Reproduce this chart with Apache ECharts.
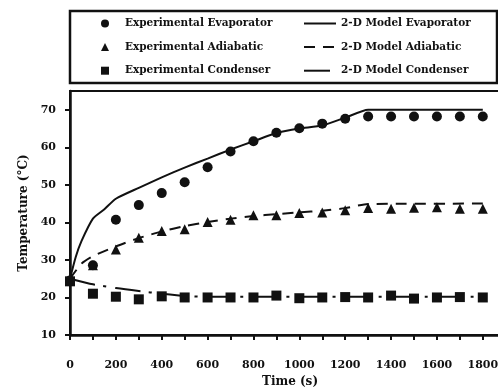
<!DOCTYPE html>
<html><head><meta charset="utf-8">
<script src="https://cdn.jsdelivr.net/npm/echarts@6/dist/echarts.min.js"></script>
<style>html,body{margin:0;padding:0;background:#fff}#c{width:498px;height:389px}</style>
</head><body><div id="c"></div>
<script>
const times = [0,100,200,300,400,500,600,700,800,900,1000,1100,1200,1300,1400,1500,1600,1700,1800];
const expEvap = [24.5,28.6,40.7,44.6,47.8,50.7,54.7,58.9,61.6,63.9,65.1,66.3,67.6,68.2,68.2,68.2,68.2,68.2,68.2];
const expAdia = [24.5,28.6,32.8,35.9,37.7,38.2,40.1,40.7,41.9,41.9,42.5,42.6,43.2,43.8,43.6,43.9,44.0,43.6,43.6];
const expCond = [24.3,21.0,20.2,19.5,20.3,20.0,20.0,20.0,20.0,20.5,19.8,20.0,20.1,20.0,20.5,19.7,20.0,20.1,20.0];

const modelEvapT = [0,25,50,100,150,200,300,400,500,600,700,800,900,1000,1100,1200,1300,1800];
const modelEvapV = [25,30.8,35,41,43.5,46.3,49.2,52.0,54.6,57.0,59.4,61.6,63.8,65.0,65.8,67.9,70,70];
const modelAdiaT = [0,50,100,200,300,400,500,600,700,800,900,1000,1100,1200,1300,1800];
const modelAdiaV = [25,29,31,33.6,35.8,37.6,39.0,40.1,41.0,41.7,42.2,42.7,43.1,43.8,44.9,45.0];
const modelCondT = [0,100,200,300,400,500,600,1800];
const modelCondV = [25,23.5,22.5,21.7,21.0,20.4,20.2,20.2];

const xTicks = [0,200,400,600,800,1000,1200,1400,1600,1800];
const yTicks = [10,20,30,40,50,60,70];

const names = {
  ee: 'Experimental Evaporator', ea: 'Experimental Adiabatic', ec: 'Experimental Condenser',
  me: '2-D Model Evaporator', ma: '2-D Model Adiabatic', mc: '2-D Model Condenser'
};
const pairs = (t, v) => t.map((x, i) => [x, v[i]]);
const FONT = 'DejaVu Serif';
const ink = '#111';

const chart = echarts.init(document.getElementById('c'), null, {renderer: 'canvas'});
chart.setOption({
  animation: false,
  backgroundColor: '#fff',
  grid: {left: 70, right: -2, top: 91, bottom: 54, show: true, borderColor: ink, borderWidth: 2,
         containLabel: false, outerBoundsMode: 'none'},
  graphic: [{
    type: 'rect', shape: {x: 70, y: 11, width: 427, height: 72},
    style: {fill: 'none', stroke: ink, lineWidth: 2.5}, z: 0
  }],
  legend: [{
    data: [names.ee, names.ea, names.ec],
    orient: 'vertical', left: 101, top: 18, padding: 0, itemWidth: 8, itemHeight: 8, itemGap: 12.6,
    itemStyle: {opacity: 1},
    textStyle: {fontFamily: FONT, fontWeight: 'bold', fontSize: 10.5, color: ink, padding: [0, 0, 0, 11]}
  }, {
    data: [names.me, names.ma, names.mc],
    orient: 'vertical', left: 303, top: 18, padding: 0, itemWidth: 32, itemHeight: 10, itemGap: 12.6,
    itemStyle: {opacity: 0},
    textStyle: {fontFamily: FONT, fontWeight: 'bold', fontSize: 10.5, color: ink}
  }],
  xAxis: {
    type: 'value', min: 0, max: 1875, interval: 100,
    name: 'Time (s)', nameLocation: 'middle', nameGap: 40,
    nameTextStyle: {fontFamily: FONT, fontWeight: 'bold', fontSize: 12, color: ink, padding: [0, 0, 0, 10]},
    axisLine: {lineStyle: {color: ink, width: 2.5}},
    axisTick: {show: true, inside: false, length: 5, lineStyle: {color: ink, width: 2}},
    axisLabel: {
      fontFamily: FONT, fontWeight: 'bold', fontSize: 11, color: ink, margin: 25,
      showMaxLabel: false,
      formatter: v => xTicks.includes(v) ? String(v) : ''
    },
    splitLine: {show: false}
  },
  yAxis: {
    type: 'value', min: 10, max: 75, interval: 10,
    name: 'Temperature (°C)', nameLocation: 'middle', nameGap: 37, nameRotate: 90,
    nameTextStyle: {fontFamily: FONT, fontWeight: 'bold', fontSize: 12, color: ink},
    axisLine: {lineStyle: {color: ink, width: 2.5}},
    axisTick: {show: true, inside: false, length: 5, lineStyle: {color: ink, width: 2}},
    axisLabel: {
      fontFamily: FONT, fontWeight: 'bold', fontSize: 11, color: ink, margin: 14,
      showMaxLabel: false,
      formatter: v => yTicks.includes(v) ? String(v) : ''
    },
    splitLine: {show: false}
  },
  series: [
    {name: names.ee, type: 'scatter', symbol: 'circle', symbolSize: 10, itemStyle: {color: ink, opacity: 1}, z: 5,
     data: pairs(times, expEvap)},
    {name: names.ea, type: 'scatter', symbol: 'triangle', symbolSize: 10, itemStyle: {color: ink, opacity: 1}, z: 5,
     data: pairs(times, expAdia)},
    {name: names.ec, type: 'scatter', symbol: 'rect', symbolSize: 10, itemStyle: {color: ink, opacity: 1}, z: 5,
     data: pairs(times, expCond)},
    {name: names.me, type: 'line', symbol: 'none', smooth: 0.2, itemStyle: {color: ink},
     lineStyle: {color: ink, width: 2, type: 'solid'}, data: pairs(modelEvapT, modelEvapV)},
    {name: names.ma, type: 'line', symbol: 'none', smooth: 0.2, itemStyle: {color: ink},
     lineStyle: {color: ink, width: 2, type: [11, 8]}, data: pairs(modelAdiaT, modelAdiaV)},
    {name: names.mc, type: 'line', symbol: 'none', smooth: 0.2, itemStyle: {color: ink},
     lineStyle: {color: ink, width: 2, type: [26, 8, 3, 9]}, data: pairs(modelCondT, modelCondV)}
  ]
});
</script></body></html>
